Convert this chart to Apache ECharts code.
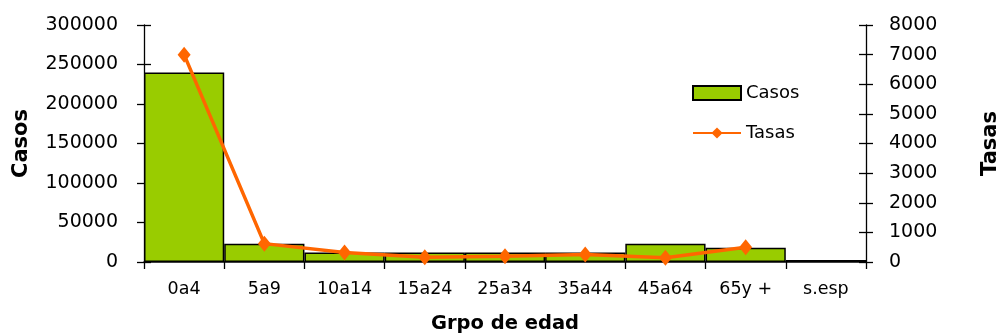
<!DOCTYPE html>
<html>
<head>
<meta charset="utf-8">
<script src="https://cdn.jsdelivr.net/npm/echarts@6/dist/echarts.min.js"></script>
<style>
  html, body { margin: 0; padding: 0; background: #fff; }
  #chart { width: 1001px; height: 336px; }
</style>
</head>
<body>
<div id="chart"></div>
<script>
// Age groups and values
const categories = ['0a4', '5a9', '10a14', '15a24', '25a34', '35a44', '45a64', '65y +', 's.esp'];
const casos = [240000, 23000, 12000, 12000, 12000, 12000, 23000, 18000, 2500];
const tasas = [7000, 620, 320, 160, 190, 250, 140, 500, null];

const FONT = '"DejaVu Sans", Verdana, sans-serif';
const BLACK = '#000';
const GRID = { left: 144, right: 135, top: 25, bottom: 74, containLabel: false, outerBoundsMode: 'none' };
const plain = v => String(v);

// Inner half of the crossing tick marks, drawn on an overlay grid
function innerTicks(position, max, interval) {
  return {
    type: 'value', gridIndex: 1, position: position, min: 0, max: max, interval: interval,
    axisLine: { show: false },
    axisTick: { show: true, inside: true, length: 7, lineStyle: { color: BLACK, width: 1.3 } },
    axisLabel: { show: false },
    splitLine: { show: false }
  };
}

const chart = echarts.init(document.getElementById('chart'), null, { renderer: 'canvas' });
chart.setOption({
  animation: false,
  backgroundColor: '#fff',
  textStyle: { fontFamily: FONT, color: BLACK },
  grid: [Object.assign({}, GRID), Object.assign({}, GRID)],
  legend: {
    orient: 'vertical', left: 692, top: 84, padding: 0, itemWidth: 48, itemHeight: 14, itemGap: 22,
    textStyle: { fontFamily: FONT, fontSize: 18, color: BLACK },
    data: [
      { name: 'Casos', icon: 'rect' },
      { name: 'Tasas' }
    ]
  },
  xAxis: [
    {
      type: 'category', data: categories,
      name: 'Grpo de edad', nameLocation: 'middle', nameGap: 52,
      nameTextStyle: { fontFamily: FONT, fontSize: 19.5, fontWeight: 'bold', color: BLACK },
      axisLine: { lineStyle: { color: BLACK, width: 1.5 } },
      axisTick: { show: true, alignWithLabel: false, length: 7, lineStyle: { color: BLACK, width: 1.3 } },
      axisLabel: { fontFamily: FONT, fontSize: 17.5, color: BLACK, margin: 18 }
    },
    { type: 'category', data: categories, gridIndex: 1, show: false }
  ],
  yAxis: [
    {
      type: 'value', position: 'left', min: 0, max: 300000, interval: 50000,
      name: 'Casos', nameLocation: 'middle', nameGap: 112, nameRotate: 90,
      nameTextStyle: { fontFamily: FONT, fontSize: 21, fontWeight: 'bold', color: BLACK },
      axisLine: { show: true, lineStyle: { color: BLACK, width: 1.3 } },
      axisTick: { show: true, length: 7, lineStyle: { color: BLACK, width: 1.3 } },
      axisLabel: { fontFamily: FONT, fontSize: 19, color: BLACK, margin: 26, formatter: plain },
      splitLine: { show: false }
    },
    {
      type: 'value', position: 'right', min: 0, max: 8000, interval: 1000,
      name: 'Tasas', nameLocation: 'middle', nameGap: 114, nameRotate: 90,
      nameTextStyle: { fontFamily: FONT, fontSize: 21, fontWeight: 'bold', color: BLACK },
      axisLine: { show: true, lineStyle: { color: BLACK, width: 1.3 } },
      axisTick: { show: true, length: 7, lineStyle: { color: BLACK, width: 1.3 } },
      axisLabel: { fontFamily: FONT, fontSize: 19, color: BLACK, margin: 23, formatter: plain },
      splitLine: { show: false }
    },
    innerTicks('left', 300000, 50000),
    innerTicks('right', 8000, 1000)
  ],
  series: [
    {
      name: 'Casos', type: 'bar', data: casos, yAxisIndex: 0,
      barCategoryGap: '0%',
      itemStyle: { color: '#99CC00', borderColor: BLACK, borderWidth: 1.5 }
    },
    {
      name: 'Tasas', type: 'line', data: tasas, yAxisIndex: 1,
      symbol: 'diamond', symbolSize: [13, 16],
      lineStyle: { color: '#FF6600', width: 3.5 },
      itemStyle: { color: '#FF6600' }
    }
  ]
});
</script>
</body>
</html>
